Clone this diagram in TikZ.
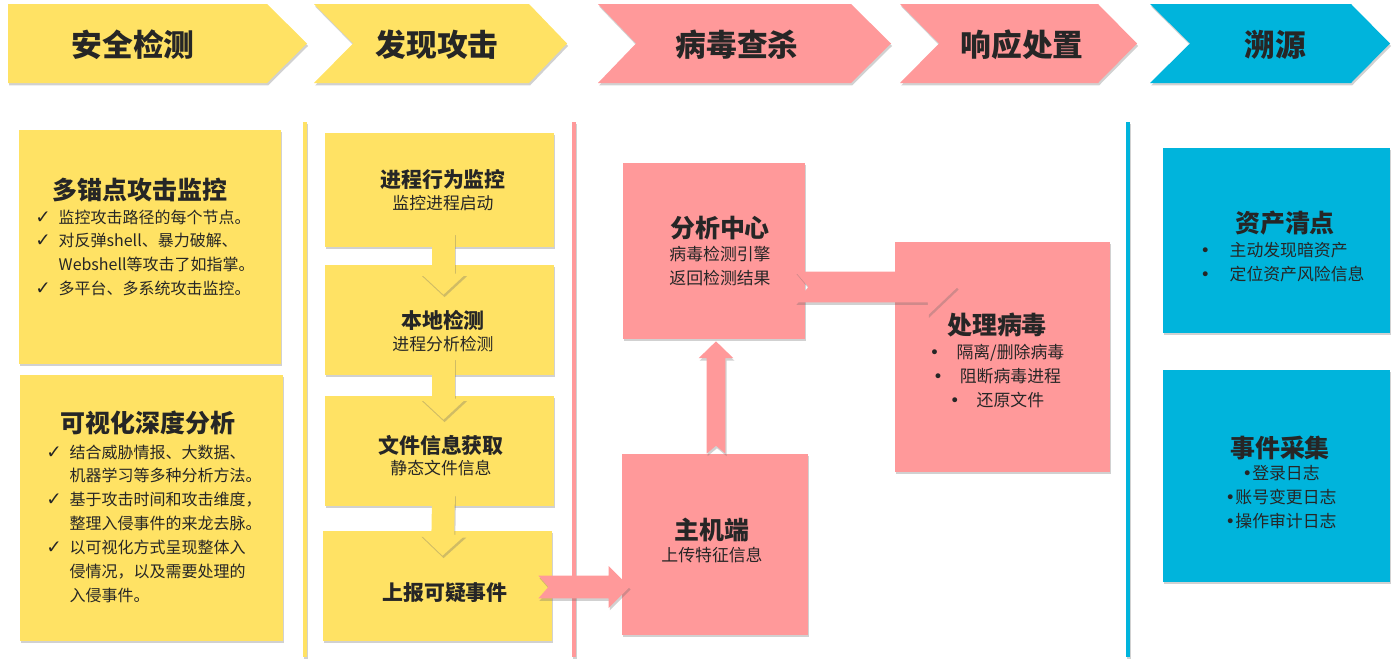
\documentclass[tikz,border=0pt]{standalone}
\usepackage{fontspec}
\setmainfont{Noto Sans CJK SC}
\newfontfamily\symfont{DejaVu Sans}
\usepackage{xcolor}
\definecolor{DetectYellow}{HTML}{FFE264}
\definecolor{KillPink}{HTML}{FF999A}
\definecolor{TraceBlue}{HTML}{00B4DC}
\definecolor{InkGray}{HTML}{262626}
\usetikzlibrary{calc, fit, shadows, positioning}

% fat notched arrow: style, from, to, shaft half, head half, head length, notch
\newcommand{\fatarrow}[7]{%
  \coordinate (fa-base) at ($(#3)!#6!(#2)$);
  \fill[#1] ($(#2)!#4!90:(#3)$) -- ($(#2)!#7!(#3)$) -- ($(#2)!#4!-90:(#3)$)
    -- ($(fa-base)!#4!-90:(#3)$) -- ($(fa-base)!#5!-90:(#3)$) -- (#3)
    -- ($(fa-base)!#5!90:(#3)$) -- ($(fa-base)!#4!90:(#3)$) -- cycle;
}
\newcommand{\tick}{{\symfont\fontsize{10.5}{13.6}\selectfont ✓}}

\begin{document}
\begin{tikzpicture}[x=0.02cm, y=-0.02cm,
    softshadow/.style={drop shadow={shadow xshift=0.6pt, shadow yshift=-1.4pt, fill=black!60, opacity=0.3}},
    card/.style={inner sep=0, softshadow},
    ycard/.style={card, fill=DetectYellow},
    pcard/.style={card, fill=KillPink},
    bcard/.style={card, fill=TraceBlue},
    stagetext/.style={text=InkGray, inner sep=0, font=\fontsize{17.5}{20}\selectfont\bfseries},
    cardtitle/.style={text=InkGray, inner sep=0, font=\fontsize{14.2}{17}\selectfont\bfseries},
    steptitle/.style={text=InkGray, inner sep=0, font=\fontsize{11.9}{14}\selectfont\bfseries},
    cardtext/.style={text=InkGray, inner sep=0, font=\fontsize{9.6}{13.6}\selectfont},
    listtext/.style={text=InkGray, inner sep=0, font=\fontsize{9.1}{13.6}\selectfont}]
    \useasboundingbox (0,0) rectangle (1397,666);

    % stage chevrons
    \fill[DetectYellow, softshadow] (8,4) -- (267,4) -- (307,43.5) -- (267,83) -- (8,83) -- cycle;
    \fill[DetectYellow, softshadow] (314,4) -- (529,4) -- (567,43.5) -- (529,83) -- (314,83) -- (353,43.5) -- cycle;
    \fill[KillPink, softshadow] (598,4) -- (851,4) -- (891,43.5) -- (851,83) -- (598,83) -- (636,43.5) -- cycle;
    \fill[KillPink, softshadow] (900,4) -- (1098,4) -- (1137,43.5) -- (1098,83) -- (900,83) -- (939,43.5) -- cycle;
    \fill[TraceBlue, softshadow] (1150,4) -- (1351,4) -- (1390,43.5) -- (1351,83) -- (1150,83) -- (1190,43.5) -- cycle;
    \node[stagetext] (stage1) at (133,45) {安全检测};
    \node[stagetext] (stage2) at (437,45) {发现攻击};
    \node[stagetext] (stage3) at (737,45) {病毒查杀};
    \node[stagetext] (stage4) at (1022,45) {响应处置};
    \node[stagetext] (stage5) at (1275,45) {溯源};

    % dividers
    \fill[DetectYellow, softshadow] (303,122) rectangle (307,657);
    \fill[KillPink, softshadow] (572,122) rectangle (576,657);
    \fill[TraceBlue, softshadow] (1126,122) rectangle (1130,657);

    % cards
    \node[ycard, fit={(19,130) (281,364)}] (monitor) {};
    \node[ycard, fit={(20,375) (283,641)}] (visual) {};
    \node[ycard, fit={(325,133) (554,247)}] (proc) {};
    \node[ycard, fit={(325,265) (554,375)}] (local) {};
    \node[ycard, fit={(325,396) (554,506)}] (fileinfo) {};
    \node[ycard, fit={(323,531) (552,641)}] (report) {};
    \node[pcard, fit={(623,163) (805,339)}] (center) {};
    \node[pcard, fit={(622,454) (808,635)}] (host) {};
    \node[pcard, fit={(895,242) (1110,472)}] (cure) {};
    \node[bcard, fit={(1163,148) (1390,333)}] (asset) {};
    \node[bcard, fit={(1163,370) (1390,582)}] (events) {};

    % arrows
    \coordinate (p1) at ($(proc.south)+(4,-15)$);
    \coordinate (p2) at ($(local.north)+(4,30)$);
    \coordinate (p3) at ($(local.south)+(4,-18)$);
    \coordinate (p4) at ($(fileinfo.north)+(4,24)$);
    \coordinate (p5) at ($(fileinfo.south)+(4,-13)$);
    \coordinate (p6) at ($(report.north)+(5,25)$);
    \fatarrow{DetectYellow, softshadow}{p1}{p2}{6.5pt}{12.8pt}{11.9pt}{5.7pt}
    \fatarrow{DetectYellow, softshadow}{p3}{p4}{6.5pt}{12.8pt}{11.9pt}{5.7pt}
    \fatarrow{DetectYellow, softshadow}{p5}{p6}{6.5pt}{12.8pt}{11.9pt}{5.7pt}
    \coordinate (h1) at ($(report.east)+(-14,1)$);
    \coordinate (h2) at ($(host.west |- h1)+(8,0)$);
    \fatarrow{KillPink, softshadow}{h1}{h2}{6.5pt}{11.9pt}{11.9pt}{5.7pt}
    \coordinate (u1) at ($(host.north)+(1,0)$);
    \coordinate (u2) at ($(center.south)+(2,2)$);
    \fatarrow{KillPink, softshadow}{u1}{u2}{5.4pt}{9.9pt}{9.6pt}{4.5pt}
    \coordinate (r1) at ($(center.east)+(-10,36)$);
    \coordinate (r2) at ($(cure.west |- r1)+(63,0)$);
    \fatarrow{KillPink, softshadow}{r1}{r2}{8.8pt}{16.2pt}{17pt}{7.4pt}

    % texts
    \node[cardtitle] (monitort) at (140,190) {多锚点攻击监控};
    \node[listtext, anchor=north west] (monitorl) at (35,206) {\begin{tabular}{@{}l@{\hspace{4.5pt}}l@{}}
      \tick & 监控攻击路径的每个节点。\\
      \tick & 对反弹shell、暴力破解、\\
       & Webshell等攻击了如指掌。\\
      \tick & 多平台、多系统攻击监控。
    \end{tabular}};
    \node[cardtitle] (visualt) at (148,423) {可视化深度分析};
    \node[listtext, anchor=north west] (visuall) at (46,441) {\begin{tabular}{@{}l@{\hspace{4.5pt}}l@{}}
      \tick & 结合威胁情报、大数据、\\
       & 机器学习等多种分析方法。\\
      \tick & 基于攻击时间和攻击维度，\\
       & 整理入侵事件的来龙去脉。\\
      \tick & 以可视化方式呈现整体入\\
       & 侵情况，以及需要处理的\\
       & 入侵事件。
    \end{tabular}};
    \node[steptitle] (proct) at (443,180) {进程行为监控};
    \node[cardtext] (procs) at (443,203) {监控进程启动};
    \node[steptitle] (localt) at (443,320) {本地检测};
    \node[cardtext] (locals) at (443,344) {进程分析检测};
    \node[steptitle] (filet) at (441,445) {文件信息获取};
    \node[cardtext] (files) at (441,468) {静态文件信息};
    \node[steptitle] (reportt) at (445,593) {上报可疑事件};
    \node[cardtitle] (centert) at (720,228) {分析中心};
    \node[cardtext, align=center] (centers) at (720,266) {病毒检测引擎\\返回检测结果};
    \node[cardtitle] (hostt) at (712,530) {主机端};
    \node[cardtext] (hosts) at (712,555) {上传特征信息};
    \node[cardtitle] (curet) at (997,325) {处理病毒};
    \node[cardtext, align=center] (curel) at (997,376) {{\symfont •}\quad 隔离/删除病毒\\{\symfont •}\quad 阻断病毒进程\\{\symfont •}\quad 还原文件};
    \node[cardtitle] (assett) at (1285,223) {资产清点};
    \node[cardtext, align=left, anchor=west] (assetl) at (1200,262) {{\symfont •}\hspace{11pt}主动发现暗资产\\{\symfont •}\hspace{11pt}定位资产风险信息};
    \node[cardtitle] (eventst) at (1280,448) {事件采集};
    \node[cardtext, align=center] (eventsl) at (1281,497) {{\symfont •}登录日志\\{\symfont •}账号变更日志\\{\symfont •}操作审计日志};
\end{tikzpicture}
\end{document}
